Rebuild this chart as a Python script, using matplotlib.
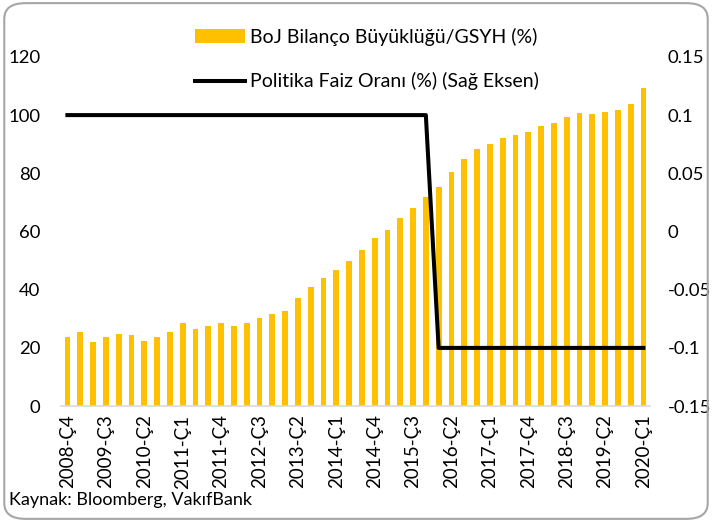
import matplotlib
matplotlib.use('Agg')
import matplotlib.pyplot as plt
from matplotlib.patches import FancyBboxPatch

plt.rcParams['font.family'] = ['Lato', 'DejaVu Sans']

# quarters 2008-Ç4 .. 2020-Ç1
quarters = []
for y in range(2008, 2021):
    for q in range(1, 5):
        if (y == 2008 and q < 4) or (y == 2020 and q > 1):
            continue
        quarters.append(f'{y}-Ç{q}')

boj_gdp = [23.8, 25.4, 22.1, 23.7, 24.8, 24.4, 22.5, 23.7, 25.4, 28.7,
           26.4, 27.7, 28.6, 27.7, 28.7, 30.3, 31.8, 32.7, 37.0, 40.8,
           43.9, 46.7, 50.0, 53.5, 57.7, 60.5, 64.6, 68.2, 71.7, 75.3,
           80.6, 84.9, 88.3, 90.1, 92.1, 93.1, 94.2, 96.1, 97.3, 99.5,
           100.6, 100.3, 101.1, 101.6, 103.7, 109.3]
policy_rate = [0.1] * 29 + [-0.1] * 17

x = list(range(len(quarters)))

fig = plt.figure(figsize=(7.12, 5.22), dpi=100)
ax = fig.add_axes([0.0857, 0.222, 0.827, 0.669])
ax2 = ax.twinx()

bars = ax.bar(x, boj_gdp, width=0.45, color='#FFC000',
              label='BoJ Bilanço Büyüklüğü/GSYH (%)')
line, = ax2.plot(x, policy_rate, color='black', lw=2.9,
                 label='Politika Faiz Oranı (%) (Sağ Eksen)')

ax.set_xlim(-0.5, 45.5)
ax.set_ylim(0, 120)
ax.set_yticks(range(0, 121, 20))
ax2.set_ylim(-0.15, 0.15)
ax2.set_yticks([-0.15, -0.1, -0.05, 0, 0.05, 0.1, 0.15])
ax2.set_yticklabels(['-0.15', '-0.1', '-0.05', '0', '0.05', '0.1', '0.15'])

ax.set_xticks(x[::3])
ax.set_xticklabels(quarters[::3], rotation=90)

for a in (ax, ax2):
    for s in ('top', 'left', 'right', 'bottom'):
        a.spines[s].set_visible(False)
ax.spines['bottom'].set_visible(True)
ax.spines['bottom'].set_color('#D9D9D9')
ax.spines['bottom'].set_linewidth(1.2)

ax.tick_params(axis='x', length=0, pad=6, labelsize=13.5)
ax.tick_params(axis='y', length=0, pad=15, labelsize=13.3)
ax2.tick_params(axis='y', length=0, pad=13, labelsize=13.3)
for lab in ax2.get_yticklabels():
    lab.set_horizontalalignment('left')

fig.legend(handles=[bars, line], loc='upper center',
           bbox_to_anchor=(0.515, 0.98), frameon=False, fontsize=14,
           handlelength=2.6, handletextpad=0.25, labelspacing=1.35)

fig.text(0.012, 0.033, 'Kaynak: Bloomberg, VakıfBank', fontsize=13)

border = FancyBboxPatch((0.006, 0.006), 0.988, 0.988,
                        boxstyle='round,pad=0,rounding_size=0.03',
                        transform=fig.transFigure, ec='#A6A6A6', fc='none',
                        lw=1.5)
fig.patches.append(border)

fig.savefig('out.png', dpi=100)
